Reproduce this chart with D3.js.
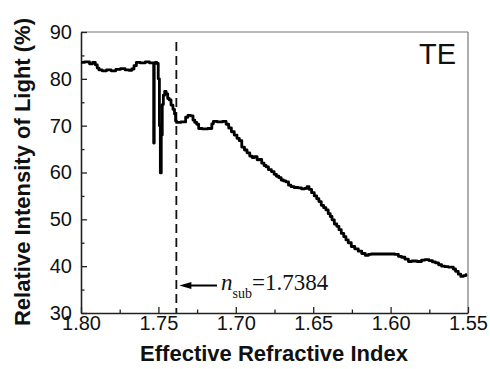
<!DOCTYPE html>
<html>
<head>
<meta charset="utf-8">
<script src="https://cdn.jsdelivr.net/npm/d3@7"></script>
<style>
  html, body { margin: 0; padding: 0; background: #fff; }
  svg { display: block; }
</style>
</head>
<body>
<svg id="chart" width="490" height="369"></svg>
<script>
// Data
const refIndex = [
  1.8000,1.7955,1.7935,1.7915,1.7900,1.7890,1.7877,1.7850,1.7820,1.7790,1.7760,1.7730,1.7700,1.7680,1.7665,1.7650,1.7635,1.7600,1.7570,1.7545,1.7532,
  1.7529,1.7525,1.7515,1.7505,1.7497,1.7490,1.7485,1.7478,1.7472,1.7464,1.7455,1.7445,1.7435,1.7425,1.7412,1.7400,1.7392,1.7386,1.7380,
  1.7330,1.7318,1.7300,1.7283,1.7270,1.7260,1.7245,1.7235,1.7200,1.7160,1.7150,1.7140,1.7100,1.7070,1.7055,1.7037,1.7020,1.7000,1.6985,1.6970,
  1.6953,1.6935,1.6920,1.6900,1.6889,1.6870,1.6855,1.6840,1.6825,1.6810,1.6798,1.6780,1.6760,1.6745,1.6730,1.6714,1.6700,1.6685,1.6669,1.6650,
  1.6637,1.6610,1.6585,1.6566,1.6545,1.6534,1.6520,1.6501,1.6485,1.6470,1.6456,1.6440,1.6425,1.6411,1.6395,1.6385,1.6372,1.6355,1.6340,1.6327,
  1.6310,1.6295,1.6282,1.6265,1.6243,1.6220,1.6198,1.6175,1.6152,1.6135,1.6114,1.6050,1.5990,1.5959,1.5940,1.5920,1.5895,1.5875,1.5850,1.5810,
  1.5790,1.5765,1.5740,1.5720,1.5700,1.5680,1.5661,1.5640,1.5616,1.5600,1.5590,1.5571,1.5555,1.5539,1.5520,1.5506
];
const intensity = [
  83.5,83.6,83.2,83.5,83.0,82.3,81.9,81.7,81.9,81.7,82.0,82.2,81.9,81.8,82.1,82.8,83.5,83.4,83.6,83.4,83.4,
  66.3,83.3,83.5,83.3,80.0,70.0,59.9,68.0,74.5,76.5,77.3,76.8,75.8,75.5,74.4,73.5,72.5,71.0,70.7,
  70.8,71.8,72.2,72.1,71.2,70.7,70.3,69.4,69.3,69.4,70.4,70.9,70.8,70.9,70.3,69.5,68.7,68.0,67.3,66.8,
  65.4,64.8,64.2,63.5,63.2,63.4,62.7,62.8,62.0,61.5,61.2,60.6,60.2,59.6,59.2,58.9,58.4,58.2,58.0,57.3,
  57.0,56.8,56.7,56.5,56.6,57.0,56.4,55.7,55.0,54.4,53.8,53.0,52.5,52.0,51.2,50.6,49.9,49.0,48.5,47.8,
  47.0,46.3,45.6,45.0,44.2,43.7,43.2,42.7,42.3,42.5,42.6,42.6,42.6,42.5,42.1,41.9,41.5,41.0,41.1,41.0,
  41.3,41.4,41.2,40.9,40.7,40.3,40.0,39.9,39.8,39.8,39.4,38.9,38.3,37.8,38.0,38.2
];
const xMajorTicks = [1.80, 1.75, 1.70, 1.65, 1.60, 1.55];
const xMinorTicks = [1.775, 1.725, 1.675, 1.625, 1.575];
const yMajorTicks = [30, 40, 50, 60, 70, 80, 90];
const yMinorTicks = [35, 45, 55, 65, 75, 85];
const nSub = 1.7384;
const xTitle = "Effective Refractive Index";
const yTitle = "Relative Intensity of Light (%)";
const modeLabel = "TE";

const svg = d3.select("#chart");
const L = 81, R = 468, T = 32, B = 313;
const x = d3.scaleLinear().domain([1.80, 1.55]).range([L, R]);
const y = d3.scaleLinear().domain([30, 90]).range([B, T]);

// frame top/right
svg.append("line").attr("x1", L).attr("x2", R).attr("y1", T).attr("y2", T)
  .attr("stroke", "#777").attr("stroke-width", 1.2);
svg.append("line").attr("x1", R).attr("x2", R).attr("y1", T).attr("y2", B)
  .attr("stroke", "#777").attr("stroke-width", 1.2);

const tickFont = "Arial, 'Liberation Sans', sans-serif";

// bottom axis
const gx = svg.append("g").attr("transform", `translate(0,${B})`)
  .call(d3.axisBottom(x).tickValues(xMajorTicks).tickFormat(d3.format(".2f"))
    .tickSizeInner(-6).tickSizeOuter(0).tickPadding(3));
gx.append("g").call(d3.axisBottom(x).tickValues(xMinorTicks).tickFormat("")
    .tickSizeInner(-3.5).tickSizeOuter(0)).select(".domain").remove();
gx.selectAll(".domain").attr("stroke", "#222").attr("stroke-width", 1.6);
gx.selectAll(".tick line").attr("stroke", "#222").attr("stroke-width", 1.3);
gx.selectAll(".tick text").attr("font-family", tickFont).attr("font-size", 20)
  .attr("fill", "#111");

// left axis
const gy = svg.append("g").attr("transform", `translate(${L},0)`)
  .call(d3.axisLeft(y).tickValues(yMajorTicks).tickFormat(d3.format("d"))
    .tickSizeInner(-6).tickSizeOuter(0).tickPadding(9));
gy.append("g").call(d3.axisLeft(y).tickValues(yMinorTicks).tickFormat("")
    .tickSizeInner(-3.5).tickSizeOuter(0)).select(".domain").remove();
gy.selectAll(".domain").attr("stroke", "#222").attr("stroke-width", 1.6);
gy.selectAll(".tick line").attr("stroke", "#222").attr("stroke-width", 1.3);
gy.selectAll(".tick text").attr("font-family", tickFont).attr("font-size", 20)
  .attr("fill", "#111");

// dashed line at n_sub
svg.append("line").attr("x1", x(nSub)).attr("x2", x(nSub))
  .attr("y1", 42).attr("y2", B)
  .attr("stroke", "#111").attr("stroke-width", 1.8)
  .attr("stroke-dasharray", "9,5");

// data line (step-like as in the reference trace)
const pts = refIndex.map((v, i) => [v, intensity[i]]);
svg.append("path").datum(pts)
  .attr("d", d3.line().x(d => x(d[0])).y(d => y(d[1])).curve(d3.curveStep))
  .attr("fill", "none").attr("stroke", "#000").attr("stroke-width", 2.8)
  .attr("stroke-linejoin", "round");

// arrow annotation
const ay = 285.5;
svg.append("line").attr("x1", x(nSub) + 10).attr("x2", 217).attr("y1", ay).attr("y2", ay)
  .attr("stroke", "#000").attr("stroke-width", 2);
svg.append("path")
  .attr("d", `M${x(nSub) + 3},${ay} L${x(nSub) + 15},${ay - 3.5} L${x(nSub) + 15},${ay + 3.5} Z`)
  .attr("fill", "#000");

const serif = "'Times New Roman', 'Liberation Serif', serif";
const ann = svg.append("text").attr("x", 221).attr("y", 290)
  .attr("font-family", serif).attr("font-size", 23).attr("fill", "#111");
ann.append("tspan").attr("font-style", "italic").text("n");
ann.append("tspan").attr("font-size", 14).attr("dy", 8).text("sub");
ann.append("tspan").attr("dy", -8).text("=" + nSub.toFixed(4));

// TE label
svg.append("text").attr("x", 456).attr("y", 64).attr("text-anchor", "end")
  .attr("font-family", tickFont).attr("font-size", 29).attr("fill", "#111")
  .text(modeLabel);

// axis titles
svg.append("text").attr("x", 274).attr("y", 361).attr("text-anchor", "middle")
  .attr("font-family", tickFont).attr("font-weight", "bold").attr("font-size", 22)
  .attr("fill", "#111").text(xTitle);
svg.append("text").attr("transform", "translate(30,172) rotate(-90)")
  .attr("text-anchor", "middle")
  .attr("font-family", tickFont).attr("font-weight", "bold").attr("font-size", 22)
  .attr("fill", "#111").text(yTitle);
</script>
</body>
</html>
